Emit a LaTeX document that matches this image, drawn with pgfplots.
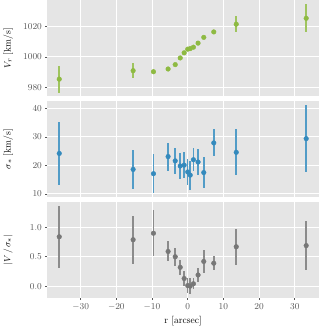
\documentclass[border=0pt]{standalone}
\usepackage{pgfplots}
\pgfplotsset{compat=1.18}
\usepgfplotslibrary{groupplots}
\definecolor{bg}{HTML}{E5E5E5}
\definecolor{cg}{HTML}{8EBA42}
\definecolor{cb}{HTML}{348ABD}
\definecolor{cgr}{HTML}{777777}
\definecolor{tk}{HTML}{555555}

\pgfplotstableread{
x y e
-36.0 985.3 9.0
-15.3 990.9 5.1
-9.6 990.2 1.5
-5.5 992.0 1.0
-3.5 994.9 1.0
-2.1 999.3 1.0
-1.0 1002.7 1.0
0.0 1005.1 1.0
0.7 1005.5 1.0
1.6 1006.4 1.0
2.9 1009.1 1.0
4.5 1012.9 1.0
7.3 1016.5 1.0
13.6 1021.6 5.1
33.2 1025.5 9.2
}\tabV

\pgfplotstableread{
x y e
-36.0 24.2 10.9
-15.3 18.6 6.8
-9.6 17.1 6.9
-5.5 23.1 4.9
-3.5 21.6 4.5
-2.1 19.8 4.4
-1.0 20.1 4.5
0.0 17.7 4.5
0.7 16.6 5.1
1.6 22.0 4.1
2.9 21.2 4.6
4.5 17.5 5.4
7.3 27.9 4.7
13.6 24.6 8.0
33.2 29.4 11.7
}\tabS

\pgfplotstableread{
x y e
-36.0 0.84 0.53
-15.3 0.79 0.41
-9.6 0.90 0.39
-5.5 0.59 0.17
-3.5 0.50 0.15
-2.1 0.32 0.13
-1.0 0.13 0.12
0.0 0.01 0.13
0.7 0.00 0.14
1.6 0.04 0.09
2.9 0.19 0.12
4.5 0.42 0.19
7.3 0.39 0.12
13.6 0.67 0.31
33.2 0.69 0.42
}\tabR

\pgfplotsset{
 ggstyle/.style={
  scale only axis, width=269pt, height=95pt,
  axis background/.style={fill=bg},
  axis line style={draw=none},
  grid=major, major grid style={white, line width=0.9pt},
  xmin=-39.3, xmax=36.7,
  xtick={-30,-20,...,30},
  tick align=outside, major tick length=2pt,
  xtick pos=bottom, ytick pos=left,
  ytick style={tk, line width=0.6pt},
  /pgf/number format/set thousands separator={},
  ticklabel style={font=\fontsize{8.8}{10}\selectfont, text=tk},
  label style={font=\fontsize{9.5}{11}\selectfont},
  ylabel style={at={(axis description cs:-0.145,0.5)}, anchor=center},
  xlabel style={yshift=1pt},
 },
 eb/.style={only marks, mark=*, mark size=2.3pt, color=#1,
  mark options={fill=#1, draw=#1},
  error bars/.cd, y dir=both, y explicit,
  error bar style={line width=1.5pt, #1!85!white}, error mark=none},
}

\begin{document}
\begin{tikzpicture}
\begin{groupplot}[group style={group size=1 by 3, vertical sep=5pt, x descriptions at=edge bottom},
  ggstyle]
\nextgroupplot[ymin=974, ymax=1037.3, ytick={980,1000,1020}, ylabel={$V_r$ [km/s]}, xtick style={draw=none}]
\addplot[eb=cg] table[x=x, y=y, y error=e] {\tabV};
\nextgroupplot[ymin=8.9, ymax=42.5, ytick={10,20,30,40}, ylabel={$\sigma_*$ [km/s]}, xtick style={draw=none}]
\addplot[eb=cb] table[x=x, y=y, y error=e] {\tabS};
\nextgroupplot[ymin=-0.2, ymax=1.43, ytick={0,0.5,1.0},
  yticklabel style={/pgf/number format/.cd, fixed, fixed zerofill, precision=1},
  ylabel={$|V\,/\,\sigma_*|$}, xlabel={r [arcsec]}, xtick style={tk, line width=0.6pt}]
\addplot[eb=cgr] table[x=x, y=y, y error=e] {\tabR};
\end{groupplot}
\end{tikzpicture}
\end{document}
